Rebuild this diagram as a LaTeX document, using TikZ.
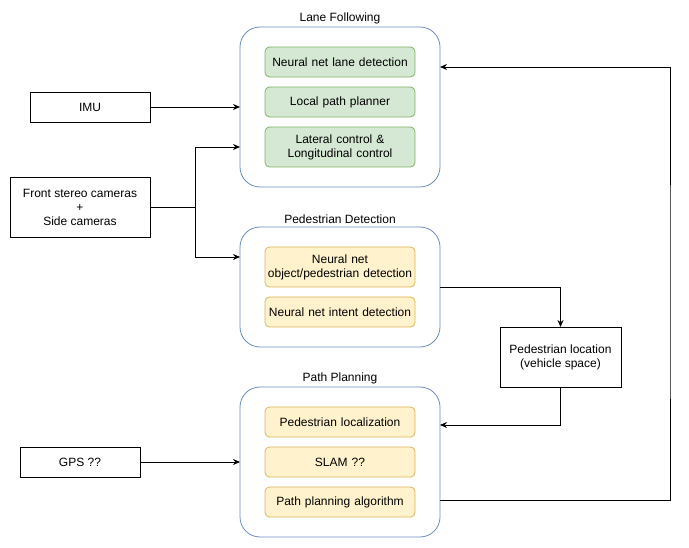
\documentclass[tikz,border=0pt]{standalone}
\usepackage{fontspec}
\setmainfont{Liberation Sans}
\usepackage{tikz}
\usetikzlibrary{arrows.meta,fit,positioning}

\definecolor{groupline}{HTML}{6C8EBF}
\definecolor{greenfill}{HTML}{D5E8D4}
\definecolor{greenline}{HTML}{82B366}
\definecolor{yellowfill}{HTML}{FFF2CC}
\definecolor{yellowline}{HTML}{D6B656}

\begin{document}
\begin{tikzpicture}
[x=1pt, y=-1pt, font=\fontsize{12}{14}\selectfont, >={Stealth[length=7pt,width=6pt]},
% STYLES
every node/.style={outer sep=0pt},
% The group style is used to draw the rounded frame round each module
group/.style={rectangle, draw=groupline, rounded corners=20pt, inner xsep=25pt, inner ysep=20pt, line width=0.8pt},
% The title style is used for the name above each module
title/.style={inner sep=2pt},
% The lane style is used for the tasks of lane following
lane/.style={rectangle, draw=greenline, fill=greenfill, rounded corners=4.5pt, minimum width=150pt, minimum height=30pt, inner xsep=1pt, text width=148pt, align=center, line width=0.8pt},
% The ped style is used for the tasks of the other modules
ped/.style={lane, draw=yellowline, fill=yellowfill},
% The sensor style is used for the inputs and the pedestrian location
sensor/.style={rectangle, draw, minimum height=30pt, align=center, line width=0.8pt}]

\useasboundingbox (0,0) rectangle (689,548);

% Draw lane following
\node [lane] (nnlane) at (340,62) {Neural net lane detection};
\node [lane, below=10pt of nnlane] (localpath) {Local path planner};
\node [lane, minimum height=40pt, below=10pt of localpath] (control) {Lateral control \&\\Longitudinal control};
\node [group, fit=(nnlane) (control)] (lanef) {};
\node [title, above=1pt of lanef] {Lane Following};

% Draw pedestrian detection
\node [ped, minimum height=40pt] (objdet) at (340,267) {Neural net\\object/pedestrian detection};
\node [ped, below=10pt of objdet] (intent) {Neural net intent detection};
\node [group, fit=(objdet) (intent)] (peddet) {};
\node [title, above=1pt of peddet] {Pedestrian Detection};

% Draw path planning
\node [ped] (pedloc) at (340,422) {Pedestrian localization};
\node [ped, below=10pt of pedloc] (slam) {SLAM ??};
\node [ped, below=10pt of slam] (ppalgo) {Path planning algorithm};
\node [group, fit=(pedloc) (ppalgo)] (pathp) {};
\node [title, above=1pt of pathp] {Path Planning};

% Draw inputs
\node [sensor, minimum width=120pt] (imu) at (90,107) {IMU};
\node [sensor, minimum width=140pt, minimum height=60pt] (cameras) at (80,207) {Front stereo cameras\\+\\Side cameras};
\node [sensor, minimum width=120pt] (gps) at (80,462) {GPS ??};
\node [sensor, minimum width=121pt, minimum height=60pt] (pedpos) at (560.5,357) {Pedestrian location\\(vehicle space)};

\coordinate (split) at (195,207);
\coordinate (loop) at (670,300);

% Draw the links between modules
\path[->, line width=0.8pt]
(imu) edge (lanef)
(gps) edge (pathp);
\draw[line width=0.8pt] (cameras) -- (split);
\draw[->, line width=0.8pt] (split) |- ([yshift=-40pt]lanef.west);
\draw[->, line width=0.8pt] (split) |- ([yshift=30pt]peddet.west);
\draw[->, line width=0.8pt] (peddet) -| (pedpos);
\draw[->, line width=0.8pt] (pedpos) |- ([yshift=37pt]pathp.east);
\draw[->, line width=0.8pt] ([yshift=-38pt]pathp.east) -| (loop) |- ([yshift=40pt]lanef.east);

\end{tikzpicture}
\end{document}
